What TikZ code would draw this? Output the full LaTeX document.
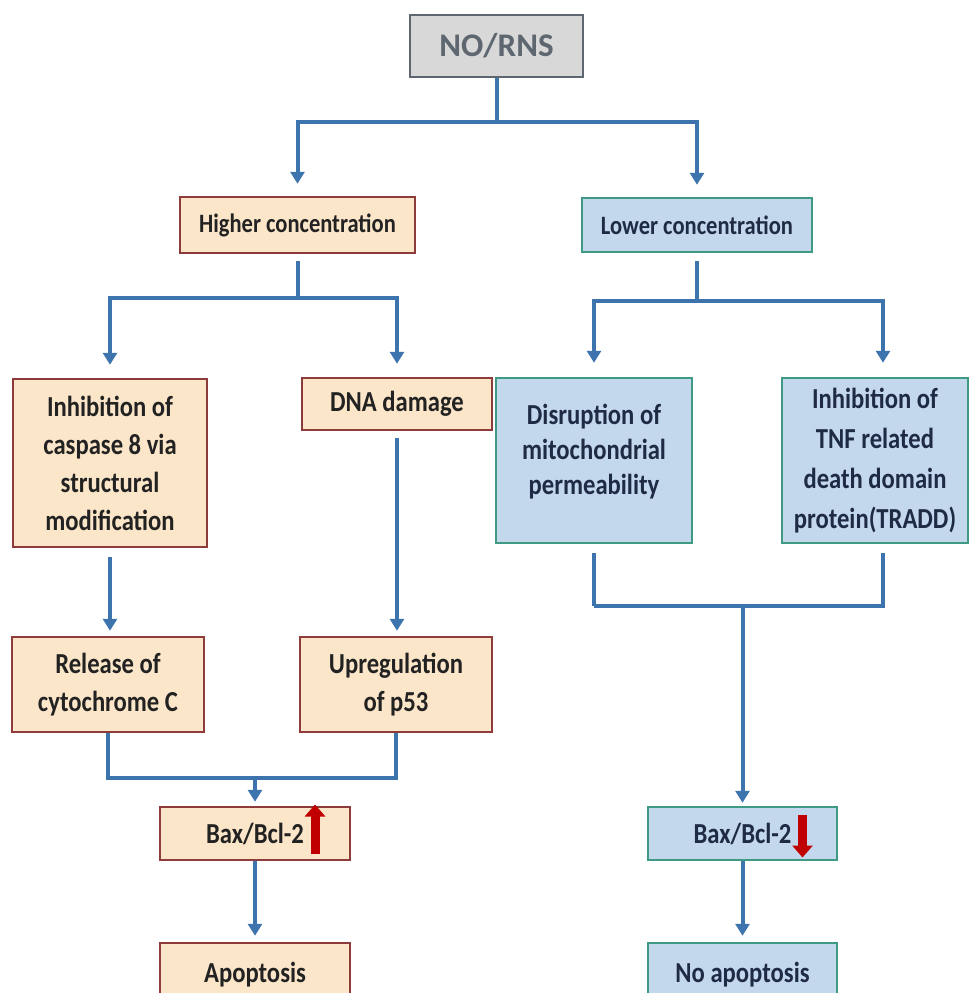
\documentclass[tikz,border=0pt]{standalone}
\usepackage{fontspec}
\setmainfont{Carlito}[FakeStretch=0.85]
\newfontfamily\plainfont{Carlito}
\usetikzlibrary{arrows.meta}
\definecolor{orfill}{HTML}{FCE6C9}
\definecolor{orline}{HTML}{8E3B3B}
\definecolor{blfill}{HTML}{C3D8EC}
\definecolor{blline}{HTML}{3E9A82}
\definecolor{gyfill}{HTML}{D8D8D8}
\definecolor{gyline}{HTML}{5E6670}
\definecolor{conn}{HTML}{3E74AE}
\definecolor{txt}{HTML}{222222}
\definecolor{navy}{HTML}{1F2A44}
\definecolor{redarr}{HTML}{C00000}
\tikzset{
  box/.style={draw, line width=2.5pt, inner sep=0pt, align=center, font=\fontsize{29}{38}\selectfont\bfseries},
  orbox/.style={box, fill=orfill, draw=orline, text=txt},
  blbox/.style={box, fill=blfill, draw=blline, text=navy},
  smalltext/.style={font=\fontsize{26.5}{34}\selectfont\bfseries},
  gybox/.style={box, fill=gyfill, draw=gyline, text=gyline, font=\plainfont\fontsize{33}{38}\selectfont\bfseries},
  wire/.style={draw=conn, line width=4pt},
  arr/.style={wire, -{Triangle[width=14pt,length=12pt]}},
  redup/.style={draw=redarr, line width=9pt, -{Triangle[width=20pt,length=12pt]}},
}
\begin{document}
\begin{tikzpicture}[x=1pt,y=-1pt]
\useasboundingbox (0,0) rectangle (969,993);
\clip (0,0) rectangle (969,993);
\fill[white] (0,0) rectangle (969,993);
% nodes
\node[gybox, minimum width=173pt, minimum height=62pt] (nors) at (496.5,46) {NO/RNS};
\node[orbox, smalltext, minimum width=235pt, minimum height=56pt] (high) at (297.5,225) {Higher concentration};
\node[blbox, smalltext, minimum width=230pt, minimum height=54pt] (low) at (697,225) {Lower concentration};
\node[orbox, minimum width=194pt, minimum height=168pt] (casp) at (110,463) {Inhibition of\\caspase 8 via\\structural\\modification};
\node[orbox, minimum width=190pt, minimum height=52pt] (dna) at (397,404) {DNA damage};
\node[blbox, minimum width=196pt, minimum height=165pt, text depth=22pt, font=\fontsize{29}{35}\selectfont\bfseries] (disr) at (594,460.5) {Disruption of\\mitochondrial\\permeability};
\node[blbox, minimum width=186pt, minimum height=165pt, font=\fontsize{29}{40}\selectfont\bfseries] (tradd) at (875,460.5) {Inhibition of\\TNF related\\death domain\\protein(TRADD)};
\node[orbox, minimum width=192pt, minimum height=95pt] (rel) at (108,684.5) {Release of\\cytochrome C};
\node[orbox, minimum width=192pt, minimum height=95pt] (upr) at (396,684.5) {Upregulation\\of p53};
\node[orbox, minimum width=190pt, minimum height=53pt] (baxl) at (255,833.5) {Bax/Bcl-2};
\node[orbox, minimum width=190pt, minimum height=64pt] (apo) at (255,975) {Apoptosis};
\node[blbox, minimum width=189pt, minimum height=53pt] (baxr) at (742.5,833.5) {Bax/Bcl-2};
\node[blbox, minimum width=189pt, minimum height=64pt] (noapo) at (742.5,975) {No apoptosis};
\coordinate (traddtop) at ([xshift=8pt]tradd.north);
\coordinate (traddbot) at ([xshift=8pt]tradd.south);
% connectors
\draw[wire] (nors.south) -- ++(0,44) coordinate (t1);
\draw[arr, shorten >=12pt] (t1) -| (high.north);
\draw[arr, shorten >=12pt] (t1) -| (low.north);
\draw[wire, shorten <=7pt] (high.south) -- ++(0,44) coordinate (h1);
\draw[arr, shorten >=13pt] (h1) -| (casp.north);
\draw[arr, shorten >=13pt] (h1) -| (dna.north);
\draw[wire, shorten <=8pt] (low.south) -- ++(0,48) coordinate (l1);
\draw[arr, shorten >=14pt] (l1) -| (disr.north);
\draw[arr, shorten >=14pt] (l1) -| (traddtop);
\draw[arr, shorten <=9pt, shorten >=5pt] (casp.south) -- (casp.south |- rel.north);
\draw[arr, shorten <=7pt, shorten >=5pt] (dna.south) -- (dna.south |- upr.north);
\draw[wire] (rel.south) -- ++(0,45) -| (upr.south);
\coordinate (m1) at (255,777);
\draw[arr, shorten >=4pt] (m1) -- (baxl.north);
\draw[wire, shorten <=9pt] (disr.south) -- ++(0,62) coordinate (d1);
\draw[wire, shorten <=9pt] (traddbot) |- (d1);
\coordinate (m2) at (742.5,605);
\draw[arr, shorten >=3pt] (m2) -- (baxr.north);
\draw[arr, shorten >=6pt] (baxl.south) -- (apo.north);
\draw[arr, shorten >=6pt] (baxr.south) -- (noapo.north);
% red indicator arrows
\draw[redup] ([shift={(60,20)}]baxl.center) -- ([shift={(60,-29)}]baxl.center);
\draw[redup] ([shift={(60,-19)}]baxr.center) -- ([shift={(60,24)}]baxr.center);
\end{tikzpicture}
\end{document}
